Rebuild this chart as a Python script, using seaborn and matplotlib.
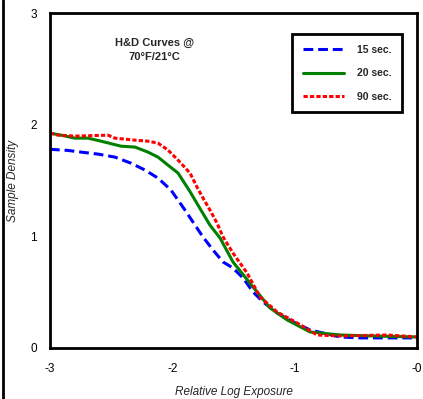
import numpy as np
import pandas as pd
import matplotlib
matplotlib.use("Agg")
import matplotlib.pyplot as plt
import seaborn as sns
from matplotlib.lines import Line2D

# Curve data (log exposure, density)
x_15 = [-3.0, -2.853, -2.747, -2.607, -2.469, -2.338, -2.223, -2.117, -2.011, -1.896,
        -1.831, -1.749, -1.667, -1.585, -1.504, -1.422, -1.340, -1.258, -1.144, -1.013,
        -0.874, -0.735, -0.629, -0.465, -0.244, 0.0]
y_15 = [1.78, 1.77, 1.755, 1.737, 1.71, 1.656, 1.594, 1.522, 1.415, 1.235,
        1.128, 0.994, 0.877, 0.770, 0.716, 0.627, 0.501, 0.412, 0.313, 0.233,
        0.161, 0.125, 0.098, 0.090, 0.090, 0.090]

x_20 = [-3.0, -2.91, -2.796, -2.689, -2.583, -2.419, -2.305, -2.199, -2.117, -2.035,
        -1.953, -1.855, -1.774, -1.692, -1.61, -1.504, -1.34, -1.201, -1.062, -0.874,
        -0.629, -0.359, 0.0]
y_20 = [1.925, 1.907, 1.88, 1.88, 1.853, 1.808, 1.80, 1.755, 1.71, 1.638,
        1.567, 1.40, 1.25, 1.10, 0.985, 0.77, 0.546, 0.358, 0.251, 0.143,
        0.116, 0.107, 0.098]

x_90 = [-3.0, -2.935, -2.796, -2.526, -2.469, -2.305, -2.199, -2.117, -2.035, -1.953,
        -1.855, -1.798, -1.749, -1.692, -1.635, -1.585, -1.504, -1.389, -1.283, -1.144,
        -0.98, -0.817, -0.629, -0.244, 0.0]
y_90 = [1.925, 1.907, 1.898, 1.907, 1.88, 1.862, 1.853, 1.835, 1.773, 1.683,
        1.567, 1.441, 1.343, 1.235, 1.119, 0.994, 0.85, 0.671, 0.457, 0.322,
        0.224, 0.116, 0.107, 0.116, 0.098]

labels = ["15 sec.", "20 sec.", "90 sec."]
x_ticks = [-3, -2, -1, 0]
x_tick_labels = ["-3", "-2", "-1", "-0"]
y_ticks = [0, 1, 2, 3]

df = pd.concat([
    pd.DataFrame({"exposure": x_15, "density": y_15, "time": labels[0]}),
    pd.DataFrame({"exposure": x_20, "density": y_20, "time": labels[1]}),
    pd.DataFrame({"exposure": x_90, "density": y_90, "time": labels[2]}),
])

sns.set_style("white")
plt.rcParams["font.family"] = ["Liberation Sans", "DejaVu Sans"]

colors = {"15 sec.": "#0000ff", "20 sec.": "#008000", "90 sec.": "#ff0000"}
dashes = {"15 sec.": (3.2, 1.6), "20 sec.": "", "90 sec.": (1.4, 0.7)}

fig = plt.figure(figsize=(4.23, 3.99), dpi=100)
ax = fig.add_axes([0.118, 0.128, 0.868, 0.839])

sns.lineplot(data=df, x="exposure", y="density", hue="time", style="time",
             palette=colors, dashes=dashes, linewidth=2.2, legend=False, ax=ax)

ax.set_xlim(-3, 0)
ax.set_ylim(0, 3)
ax.set_xticks(x_ticks)
ax.set_xticklabels(x_tick_labels)
ax.set_yticks(y_ticks)
ax.tick_params(direction="inout", length=9, width=1.6, labelsize=8.5,
               colors="black")
ax.tick_params(axis="x", pad=6)
ax.tick_params(axis="y", pad=5)
for s in ax.spines.values():
    s.set_linewidth(2)
    s.set_color("black")

ax.set_xlabel("Relative Log Exposure", fontsize=8.5, fontstyle="italic", labelpad=8)
ax.set_ylabel("Sample Density", fontsize=8.5, fontstyle="italic", labelpad=8)

ax.text(0.285, 0.912, "H&D Curves @", transform=ax.transAxes, ha="center",
        va="center", fontsize=8, fontweight="bold")
ax.text(0.285, 0.87, "70°F/21°C", transform=ax.transAxes, ha="center",
        va="center", fontsize=8, fontweight="bold")

handles = [Line2D([], [], color=colors["15 sec."], linewidth=2.2, dashes=dashes["15 sec."]),
           Line2D([], [], color=colors["20 sec."], linewidth=2.2),
           Line2D([], [], color=colors["90 sec."], linewidth=2.2, dashes=dashes["90 sec."])]
leg = ax.legend(handles, labels, loc="upper right", bbox_to_anchor=(0.959, 0.937),
                borderaxespad=0, fancybox=False, edgecolor="black", framealpha=1,
                handlelength=4, labelspacing=1.3, borderpad=1.0, handletextpad=1.2,
                prop={"size": 7.5, "weight": "bold"})
leg.get_frame().set_linewidth(2)

# left border of the figure frame
fig.add_artist(Line2D([0.006, 0.006], [0, 1], transform=fig.transFigure,
                      color="black", linewidth=2))

fig.savefig("out.png", dpi=100)
